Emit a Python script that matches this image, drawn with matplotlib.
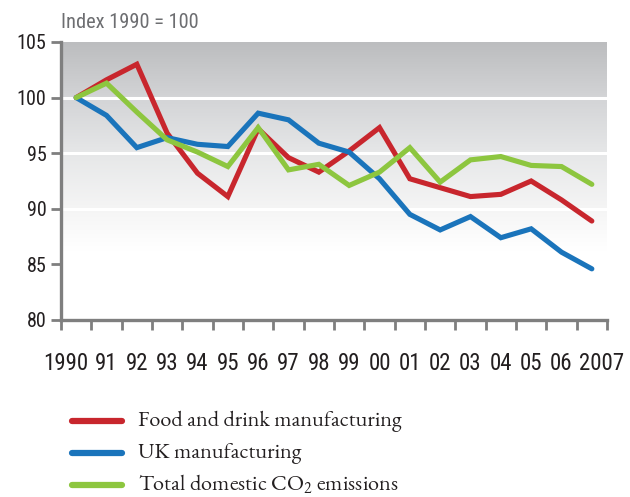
import matplotlib
matplotlib.use("Agg")
import matplotlib.pyplot as plt
import numpy as np
from matplotlib.colors import LinearSegmentedColormap

years = ["1990", "91", "92", "93", "94", "95", "96", "97", "98", "99",
         "00", "01", "02", "03", "04", "05", "06", "2007"]
food = [100, 101.6, 103.0, 96.8, 93.2, 91.1, 97.2, 94.6, 93.3, 95.2,
        97.3, 92.7, 91.9, 91.1, 91.3, 92.5, 90.8, 88.9]
ukman = [100, 98.4, 95.5, 96.4, 95.8, 95.6, 98.6, 98.0, 95.9, 95.1,
         92.7, 89.5, 88.1, 89.3, 87.4, 88.2, 86.1, 84.6]
co2 = [100, 101.3, 98.7, 96.2, 95.1, 93.8, 97.3, 93.5, 94.0, 92.1,
       93.3, 95.5, 92.4, 94.4, 94.7, 93.9, 93.8, 92.2]
labels = ["Food and drink manufacturing", "UK manufacturing", "Total domestic CO$_2$ emissions"]
colors = ["#c8262d", "#1a74bb", "#8dc63f"]
yticks = [80, 85, 90, 95, 100, 105]

cond = ["Roboto Condensed", "DejaVu Sans"]
serif = ["EB Garamond", "DejaVu Serif"]
plt.rcParams["mathtext.fontset"] = "custom"
plt.rcParams["mathtext.rm"] = "EB Garamond"

fig = plt.figure(figsize=(6.3, 4.97), dpi=100)
ax = fig.add_axes([61/630, 1-320/497, (607-61)/630, (320-42)/497])

x = np.arange(len(years))
ax.set_xlim(-0.5, len(years)-0.5)
ax.set_ylim(80, 105)

# gradient background
grad = np.linspace(0, 1, 256).reshape(-1, 1)
cmap = LinearSegmentedColormap.from_list("g", [(0, "#bcbdbf"), (0.2, "#d3d4d6"), (0.4, "#e6e7e8"), (0.6, "#f5f5f5"), (0.75, "#ffffff"), (1, "#ffffff")])
ax.imshow(grad, aspect="auto", cmap=cmap, extent=(-0.5, len(years)-0.5, 80, 105), origin="upper", zorder=0)
for v in [100, 95, 90]:
    ax.axhline(v, color="white", lw=2.2, zorder=1)

for vals, c in zip([food, ukman, co2], colors):
    ax.plot(x, vals, color=c, lw=3.7, solid_joinstyle="miter", solid_capstyle="round", zorder=3)

for s in ["top", "right"]:
    ax.spines[s].set_visible(False)
for s in ["left", "bottom"]:
    ax.spines[s].set_color("#7f7f7f")
    ax.spines[s].set_linewidth(2.4)

ax.set_yticks(yticks)
ax.set_yticklabels([str(v) for v in yticks], family=cond, fontsize=14.5, color="#231f20")
ax.set_xticks(np.arange(-0.5, len(years)))
ax.set_xticklabels([])
# end labels pushed slightly outward as in the original layout
label_pos = x.astype(float).copy()
label_pos[0] -= 0.33
label_pos[-1] += 0.33
ax.set_xticks(label_pos, minor=True)
ax.set_xticklabels(years, minor=True, family=cond, fontsize=16.5, color="#231f20")
ax.tick_params(axis="x", which="major", length=7, width=2, color="#7f7f7f", direction="out")
ax.tick_params(axis="x", which="minor", length=0, pad=23)
ax.tick_params(axis="y", length=7, width=2, color="#7f7f7f", pad=3.5)

fig.text(61/630, 1-22/497, "Index 1990 = 100", family=cond, fontsize=14.7, color="#6d6e71", va="center", ha="left")

# legend
for i, (lab, c) in enumerate(zip(labels, colors)):
    yy = 1 - (421 + 32*i)/497
    fig.add_artist(plt.Line2D([72/630, 122/630], [yy, yy], color=c, lw=4.5, solid_capstyle="round"))
    fig.text(138/630, yy, lab, family=serif, fontsize=16, color="#231f20", va="center", ha="left")

fig.savefig("out.png", dpi=100)
